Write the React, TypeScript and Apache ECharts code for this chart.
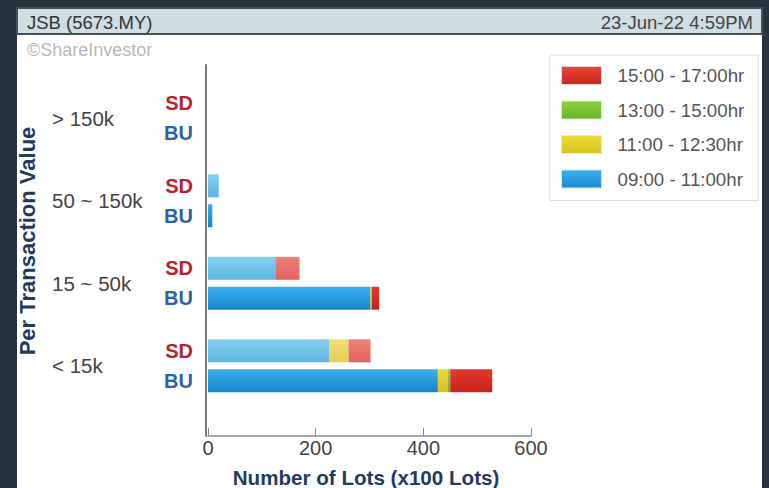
import React, { useEffect, useRef } from 'react';
import * as echarts from 'echarts';

const categories = ['< 15k', '15 ~ 50k', '50 ~ 150k', '> 150k'];
const periods = ['15:00 - 17:00hr', '13:00 - 15:00hr', '11:00 - 12:30hr', '09:00 - 11:00hr'];
// SD (sell down) values per category, x100 lots
const sdMorning = [225, 125, 20, 0];
const sdMidday = [36, 0, 0, 0];
const sdAfternoon = [0, 0, 0, 0];
const sdClose = [41, 45, 0, 0];
// BU (buy up) values per category, x100 lots
const buMorning = [427, 302, 8, 0];
const buMidday = [18, 2, 0, 0];
const buAfternoon = [5, 0, 0, 0];
const buClose = [78, 14, 0, 0];
const xMin = 0;
const xMax = 600;
const xInterval = 200;

const FONT = '"Liberation Sans", Arial, sans-serif';

const grad = (top: string, bottom: string) =>
  new echarts.graphic.LinearGradient(0, 0, 0, 1, [
    { offset: 0, color: top },
    { offset: 1, color: bottom },
  ]);

const mk = (name: string, stack: string, data: number[], color: any) => ({
  type: 'bar',
  name,
  stack,
  data,
  xAxisIndex: 0,
  yAxisIndex: 0,
  barWidth: 23,
  barGap: '30%',
  itemStyle: { color },
  emphasis: { disabled: true },
});

export default function App() {
  const ref = useRef<HTMLDivElement>(null);
  useEffect(() => {
    document.body.style.margin = '0';
    const chart = echarts.init(ref.current!, undefined, { renderer: 'svg' });
    chart.setOption({
      animation: false,
      textStyle: { fontFamily: FONT },
      graphic: [
        {
          type: 'rect',
          shape: { x: 17, y: 8, width: 745, height: 26 },
          style: { fill: '#cfdee3', stroke: '#4a5057', lineWidth: 2 },
        },
        {
          type: 'text',
          x: 27,
          y: 22,
          style: { text: 'JSB (5673.MY)', fontSize: 18.5, fontFamily: FONT, fill: '#333', verticalAlign: 'middle', align: 'left' },
        },
        {
          type: 'text',
          x: 753,
          y: 22,
          style: { text: '23-Jun-22 4:59PM', fontSize: 18.5, fontFamily: FONT, fill: '#444', verticalAlign: 'middle', align: 'right' },
        },
        {
          type: 'text',
          x: 27,
          y: 50,
          style: { text: '©ShareInvestor', fontSize: 18, fontFamily: FONT, fill: '#b8b8b8', verticalAlign: 'middle', align: 'left' },
        },
        {
          type: 'text',
          x: 27,
          y: 241,
          rotation: Math.PI / 2,
          style: { text: 'Per Transaction Value', fontSize: 22, fontWeight: 'bold', fontFamily: FONT, fill: '#1f3b5e', verticalAlign: 'middle', align: 'center' },
        },
        {
          type: 'text',
          x: 366,
          y: 477,
          style: { text: 'Number of Lots (x100 Lots)', fontSize: 20.6, fontWeight: 'bold', fontFamily: FONT, fill: '#1f3b5e', verticalAlign: 'middle', align: 'center' },
        },
      ],
      legend: {
        orient: 'vertical',
        left: 550,
        top: 55,
        padding: [11, 14, 12, 11],
        itemWidth: 40,
        itemHeight: 18,
        itemGap: 15.5,
        borderColor: '#dcdcdc',
        borderWidth: 1,
        selectedMode: false,
        textStyle: { fontSize: 18.7, color: '#555', fontFamily: FONT, padding: [0, 0, 0, 11] },
        data: [
          { name: periods[0], icon: 'rect', itemStyle: { color: grad('#e8463b', '#c8261b'), borderColor: '#f0d0d0', borderWidth: 1 } },
          { name: periods[1], icon: 'rect', itemStyle: { color: grad('#8ad43c', '#6ab424'), borderColor: '#dcefd0', borderWidth: 1 } },
          { name: periods[2], icon: 'rect', itemStyle: { color: grad('#ecda3a', '#d6c21f'), borderColor: '#f0ecc8', borderWidth: 1 } },
          { name: periods[3], icon: 'rect', itemStyle: { color: grad('#3cb0ec', '#1a8ad0'), borderColor: '#d0e8f4', borderWidth: 1 } },
        ],
      },
      grid: [
        { left: 208, top: 77, width: 323, height: 330 },
        { left: 206, top: 65, width: 325, height: 371 },
      ],
      xAxis: [
        {
          gridIndex: 0,
          type: 'value',
          min: xMin,
          max: xMax,
          interval: xInterval,
          offset: 29,
          axisLine: { show: true, lineStyle: { color: '#8a8a8a', width: 1.5 } },
          axisTick: { show: true, inside: true, length: 8, lineStyle: { color: '#8a8a8a' } },
          axisLabel: { fontSize: 20, color: '#444', margin: 2, fontFamily: FONT },
          splitLine: { show: false },
        },
        { gridIndex: 1, type: 'value', show: false, min: 0, max: 1 },
      ],
      yAxis: [
        {
          gridIndex: 0,
          type: 'category',
          data: categories,
          position: 'left',
          axisLine: { show: false },
          axisTick: { show: false },
          axisLabel: { margin: 156, align: 'left', fontSize: 20.5, color: '#444', fontFamily: FONT },
        },
        {
          gridIndex: 0,
          type: 'category',
          data: categories,
          position: 'left',
          axisLine: { show: false },
          axisTick: { show: false },
          axisLabel: {
            margin: 15,
            align: 'right',
            formatter: () => '{sd|SD}\n{bu|BU}',
            rich: {
              sd: { color: '#b5232b', fontWeight: 'bold', fontSize: 20, lineHeight: 30, fontFamily: FONT, align: 'right' },
              bu: { color: '#2e62a6', fontWeight: 'bold', fontSize: 20, lineHeight: 30, fontFamily: FONT, align: 'right' },
            },
          },
        },
        {
          gridIndex: 1,
          type: 'value',
          min: 0,
          max: 1,
          axisLine: { show: true, lineStyle: { color: '#7a7a7a', width: 2 } },
          axisTick: { show: false },
          axisLabel: { show: false },
          splitLine: { show: false },
        },
      ],
      series: [
        mk(periods[3], 'sd', sdMorning, grad('#86cff1', '#5cb5e3')),
        mk(periods[2], 'sd', sdMidday, grad('#f0df74', '#e3cf55')),
        mk(periods[1], 'sd', sdAfternoon, grad('#a6dc70', '#8ac653')),
        mk(periods[0], 'sd', sdClose, grad('#ee827a', '#e0625b')),
        mk(periods[3], 'bu', buMorning, grad('#3cb0ec', '#1585cc')),
        mk(periods[2], 'bu', buMidday, grad('#ecda3a', '#d6c21f')),
        mk(periods[1], 'bu', buAfternoon, grad('#8ad43c', '#6ab424')),
        mk(periods[0], 'bu', buClose, grad('#e2392e', '#c8231a')),
      ],
    });
    return () => chart.dispose();
  }, []);
  return (
    <div style={{ position: 'relative', width: 769, height: 488, background: '#27323f', overflow: 'hidden' }}>
      <div style={{ position: 'absolute', left: 17, top: 8, width: 745, height: 480, background: '#ffffff' }} />
      <div ref={ref} style={{ position: 'absolute', left: 0, top: 0, width: 769, height: 488 }} />
    </div>
  );
}
